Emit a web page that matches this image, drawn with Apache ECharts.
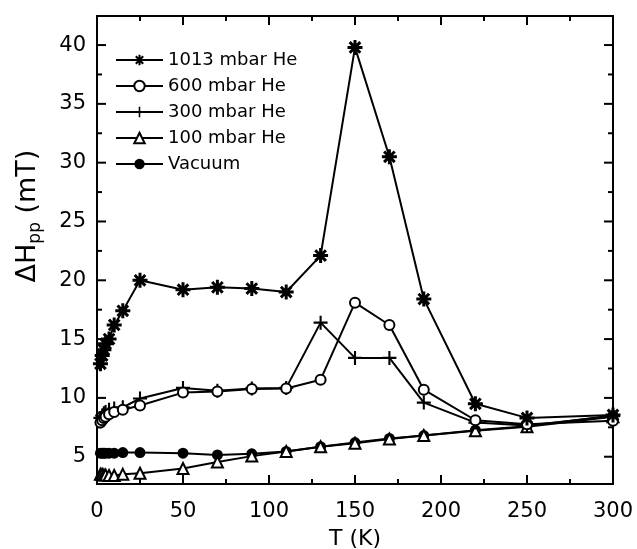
<!DOCTYPE html>
<html>
<head>
<meta charset="utf-8">
<script src="https://cdn.jsdelivr.net/npm/echarts@6/dist/echarts.min.js"></script>
<style>
html,body{margin:0;padding:0;background:#fff;}
#chart{width:637px;height:549px;}
</style>
</head>
<body>
<div id="chart"></div>
<script>
// ---- data ----
const temps = [2, 3, 4, 5, 7, 10, 15, 25, 50, 70, 90, 110, 130, 150, 170, 190, 220, 250, 300];
const he1013 = [12.9, 13.6, 14.1, 14.6, 15.0, 16.2, 17.4, 20.0, 19.2, 19.4, 19.3, 19.0, 22.1, 39.8, 30.5, 18.4, 9.5, 8.3, 8.55];
const he600 = [7.9, 8.1, 8.3, 8.4, 8.6, 8.8, 9.0, 9.35, 10.45, 10.55, 10.75, 10.8, 11.55, 18.1, 16.2, 10.7, 8.1, 7.75, 8.05];
const he300 = [8.3, 8.5, 8.7, 8.8, 9.0, 9.1, 9.2, 9.95, 10.85, 10.6, 10.8, 10.85, 16.4, 13.4, 13.4, 9.6, 7.9, 7.65, 8.45];
const he100 = [3.5, 3.5, 3.45, 3.45, 3.4, 3.4, 3.5, 3.6, 4.0, 4.55, 5.05, 5.45, 5.85, 6.15, 6.5, 6.8, 7.2, 7.55, 8.4];
const vacuum = [5.3, 5.3, 5.3, 5.3, 5.3, 5.3, 5.35, 5.35, 5.3, 5.15, 5.25, 5.45, 5.85, 6.2, 6.55, 6.8, 7.25, 7.6, 8.5];
const seriesNames = ['1013 mbar He', '600 mbar He', '300 mbar He', '100 mbar He', 'Vacuum'];
const xMajorTicks = [0, 50, 100, 150, 200, 250, 300];
const xMinorTicks = [25, 75, 125, 175, 225, 275];
const yMajorTicks = [5, 10, 15, 20, 25, 30, 35, 40];
const yMinorTicks = [7.5, 12.5, 17.5, 22.5, 27.5, 32.5, 37.5];
const xLabel = 'T (K)';

// ---- marker shapes ----
function barsPath(angles, L, w) {
  let p = '';
  angles.forEach(a => {
    const t = a * Math.PI / 180, c = Math.cos(t), s = Math.sin(t);
    const cx = 10, cy = 10;
    const pts = [
      [cx + L * c - w * s, cy + L * s + w * c],
      [cx + L * c + w * s, cy + L * s - w * c],
      [cx - L * c + w * s, cy - L * s - w * c],
      [cx - L * c - w * s, cy - L * s + w * c]
    ];
    p += 'M' + pts.map(q => q[0].toFixed(3) + ' ' + q[1].toFixed(3)).join(' L') + ' Z ';
  });
  return 'path://' + p;
}
const asteriskSym = barsPath([0, 45, 90, 135], 10, 2.0);
const plusSym = barsPath([0, 90], 10, 1.5);

const font = 'DejaVu Sans, Liberation Sans, Arial, sans-serif';
const pairs = arr => temps.map((t, i) => [t, arr[i]]);

function mkSeries(name, arr, symbol, size, fill, z) {
  return {
    name: name, type: 'line', data: pairs(arr), xAxisIndex: 0, yAxisIndex: 0,
    symbol: symbol, symbolSize: size, showSymbol: true, z: z,
    lineStyle: { color: '#000', width: 2 },
    itemStyle: { color: fill, borderColor: '#000', borderWidth: fill === '#fff' ? 2 : 0 },
    emphasis: { disabled: true }, animation: false
  };
}

const xMin = 0, xMax = 300, yMin = 2.68, yMax = 42.47;
const MAJ = 9, MIN = 5;

// tick items: [x, y, kind(0 = x tick, 1 = y tick), length]
const tickItems = [];
xMajorTicks.filter(v => v > xMin && v < xMax).forEach(v => tickItems.push([v, yMin, 0, MAJ]));
xMinorTicks.forEach(v => tickItems.push([v, yMin, 0, MIN]));
yMajorTicks.forEach(v => tickItems.push([xMin, v, 1, MAJ]));
yMinorTicks.forEach(v => tickItems.push([xMin, v, 1, MIN]));

function renderTick(params, api) {
  const kind = api.value(2), len = api.value(3);
  const st = { stroke: '#000', lineWidth: 2 };
  if (kind === 0) {
    const v = api.value(0);
    const a = api.coord([v, yMin]), b = api.coord([v, yMax]);
    return { type: 'group', children: [
      { type: 'line', shape: { x1: a[0], y1: a[1], x2: a[0], y2: a[1] - len }, style: st },
      { type: 'line', shape: { x1: b[0], y1: b[1], x2: b[0], y2: b[1] + len }, style: st }
    ] };
  } else {
    const v = api.value(1);
    const a = api.coord([xMin, v]), b = api.coord([xMax, v]);
    return { type: 'group', children: [
      { type: 'line', shape: { x1: a[0], y1: a[1], x2: a[0] + len, y2: a[1] }, style: st },
      { type: 'line', shape: { x1: b[0], y1: b[1], x2: b[0] - len, y2: b[1] }, style: st }
    ] };
  }
}

const lineSt = { color: '#000', width: 2 };

const option = {
  animation: false,
  backgroundColor: '#fff',
  textStyle: { fontFamily: font, color: '#000' },
  grid: { left: 97, right: 24, top: 16, bottom: 65, containLabel: false, outerBoundsMode: 'none' },
  legend: {
    orient: 'vertical', left: 110, top: 46, itemWidth: 47, itemHeight: 13, itemGap: 8,
    data: seriesNames,
    textStyle: { fontSize: 18, color: '#000', fontFamily: font }
  },
  xAxis: [
    {
      type: 'value', min: xMin, max: xMax, interval: 50, position: 'bottom',
      axisLine: { show: true, onZero: false, lineStyle: lineSt },
      axisTick: { show: false }, minorTick: { show: false }, splitLine: { show: false },
      axisLabel: { fontSize: 21, color: '#000', margin: 17, fontFamily: font, customValues: xMajorTicks },
      name: xLabel, nameLocation: 'middle', nameGap: 44,
      nameTextStyle: { fontSize: 22, color: '#000', fontFamily: font }
    },
    {
      type: 'value', min: xMin, max: xMax, position: 'top',
      axisLine: { show: true, onZero: false, lineStyle: lineSt },
      axisTick: { show: false }, splitLine: { show: false }, axisLabel: { show: false }
    }
  ],
  yAxis: [
    {
      type: 'value', min: yMin, max: yMax, position: 'left',
      axisLine: { show: true, onZero: false, lineStyle: lineSt },
      axisTick: { show: false }, splitLine: { show: false },
      axisLabel: { fontSize: 21, color: '#000', margin: 11, fontFamily: font, customValues: yMajorTicks },
      name: '{a|ΔH}{b|pp}{a| (mT)}', nameLocation: 'middle', nameRotate: 90, nameGap: 53,
      nameTextStyle: {
        padding: [0, 0, 0, 68],
        rich: {
          a: { fontSize: 27, color: '#000', fontFamily: font },
          b: { fontSize: 17, color: '#000', fontFamily: font, padding: [15, 0, 0, 0] }
        }
      }
    },
    {
      type: 'value', min: yMin, max: yMax, position: 'right',
      axisLine: { show: true, onZero: false, lineStyle: lineSt },
      axisTick: { show: false }, splitLine: { show: false }, axisLabel: { show: false }
    }
  ],
  series: [
    {
      type: 'custom', name: 'ticks', xAxisIndex: 0, yAxisIndex: 0, data: tickItems,
      encode: { x: 0, y: 1 }, renderItem: renderTick, silent: true, clip: false, z: 1,
      animation: false
    },
    mkSeries(seriesNames[0], he1013, asteriskSym, 15, '#000', 6),
    mkSeries(seriesNames[1], he600, 'circle', 10, '#fff', 5),
    mkSeries(seriesNames[2], he300, plusSym, 14, '#000', 4),
    mkSeries(seriesNames[3], he100, 'triangle', 11, '#fff', 3),
    mkSeries(seriesNames[4], vacuum, 'circle', 11, '#000', 2)
  ]
};

const chart = echarts.init(document.getElementById('chart'), null, { renderer: 'canvas' });
chart.setOption(option);
</script>
</body>
</html>
